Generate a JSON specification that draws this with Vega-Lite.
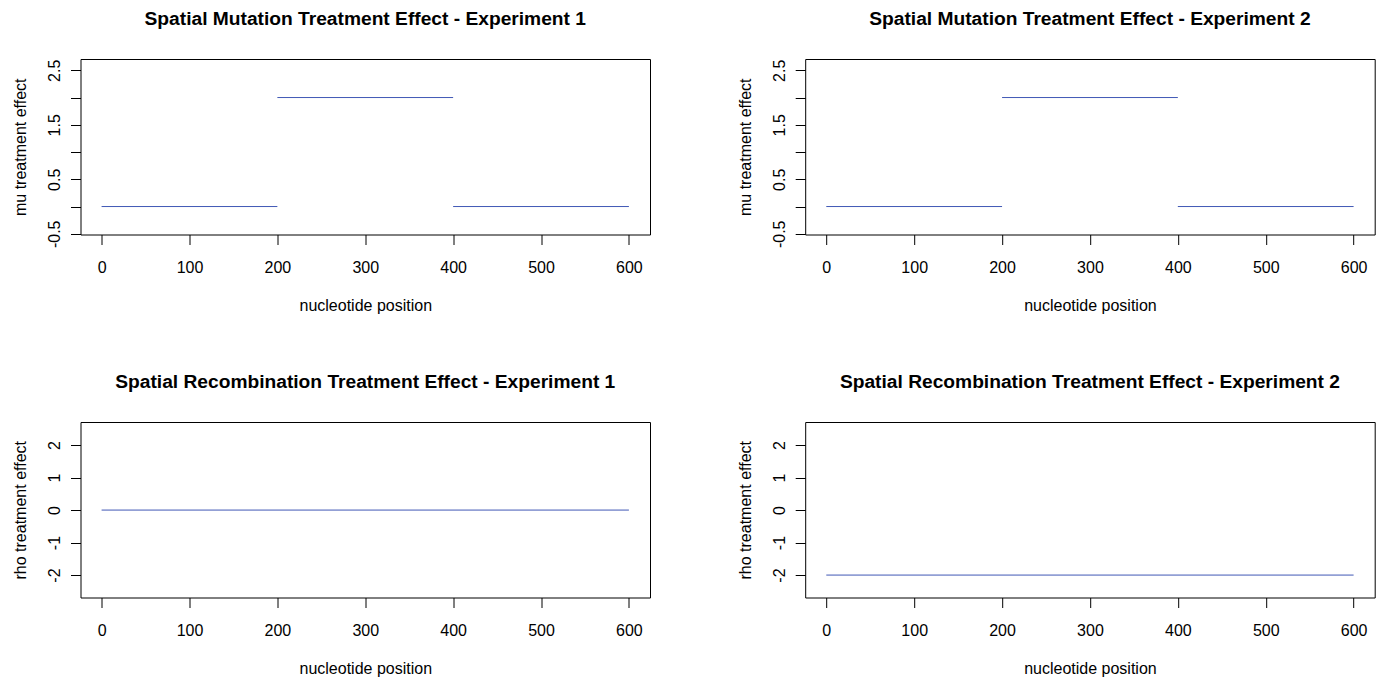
{
  "$schema": "https://vega.github.io/schema/vega-lite/v6.json",
  "background": "white",
  "padding": {"left": 11.5, "top": 9, "right": 0, "bottom": 0},
  "bounds": "flush",
  "columns": 2,
  "spacing": {"row": 187, "column": 154.7},
  "config": {
    "view": {"stroke": "#000000", "strokeWidth": 1},
    "axis": {
      "domain": false, "grid": false, "ticks": true, "tickSize": 10, "tickColor": "#000000", "tickWidth": 1,
      "labelFont": "Liberation Sans", "labelFontSize": 16, "labelColor": "#000000",
      "titleFont": "Liberation Sans", "titleFontSize": 16, "titleFontWeight": "normal", "titleColor": "#000000",
      "labelOverlap": false, "labelBound": false, "labelFlush": false
    },
    "axisX": {"labelBaseline": "alphabetic", "labelAlign": "center", "labelPadding": 27.7, "titleY": 76, "titleBaseline": "alphabetic"},
    "axisY": {"labelAngle": 270, "labelAlign": "center", "labelBaseline": "alphabetic", "labelPadding": 10.7, "titleX": -54.7, "titleBaseline": "alphabetic", "titleAngle": 270},
    "title": {"font": "Liberation Sans", "fontSize": 19.2, "fontWeight": "bold", "color": "#000000", "anchor": "middle", "frame": "group", "baseline": "alphabetic", "offset": 30.3}
  },
  "datasets": {
    "segs": [
      {"panel": "mu1", "start": 0, "end": 200, "value": 0},
      {"panel": "mu1", "start": 200, "end": 400, "value": 2},
      {"panel": "mu1", "start": 400, "end": 600, "value": 0},
      {"panel": "mu2", "start": 0, "end": 200, "value": 0},
      {"panel": "mu2", "start": 200, "end": 400, "value": 2},
      {"panel": "mu2", "start": 400, "end": 600, "value": 0},
      {"panel": "rho1", "start": 0, "end": 600, "value": 0},
      {"panel": "rho2", "start": 0, "end": 600, "value": -2}
    ]
  },
  "concat": [
    {
      "width": 569.5, "height": 175.5,
      "title": "Spatial Mutation Treatment Effect - Experiment 1",
      "data": {"name": "segs"},
      "transform": [{"filter": "datum.panel == 'mu1'"}],
      "mark": {"type": "rule", "color": "#4058B5", "strokeWidth": 1},
      "encoding": {
        "x": {"field": "start", "type": "quantitative", "title": "nucleotide position", "scale": {"domain": [-24, 624], "nice": false, "zero": false}, "axis": {"values": [0, 100, 200, 300, 400, 500, 600], "labelExpr": "datum.value + ''"}},
        "x2": {"field": "end"},
        "y": {"field": "value", "type": "quantitative", "title": "mu treatment effect", "scale": {"domain": [-0.513, 2.707], "nice": false, "zero": false}, "axis": {"values": [-0.5, 0, 0.5, 1, 1.5, 2, 2.5], "labelExpr": "datum.value % 1 == 0 ? '' : datum.value + ''"}}
      }
    },
    {
      "width": 569.5, "height": 175.5,
      "title": "Spatial Mutation Treatment Effect - Experiment 2",
      "data": {"name": "segs"},
      "transform": [{"filter": "datum.panel == 'mu2'"}],
      "mark": {"type": "rule", "color": "#4058B5", "strokeWidth": 1},
      "encoding": {
        "x": {"field": "start", "type": "quantitative", "title": "nucleotide position", "scale": {"domain": [-24, 624], "nice": false, "zero": false}, "axis": {"values": [0, 100, 200, 300, 400, 500, 600], "labelExpr": "datum.value + ''"}},
        "x2": {"field": "end"},
        "y": {"field": "value", "type": "quantitative", "title": "mu treatment effect", "scale": {"domain": [-0.513, 2.707], "nice": false, "zero": false}, "axis": {"values": [-0.5, 0, 0.5, 1, 1.5, 2, 2.5], "labelExpr": "datum.value % 1 == 0 ? '' : datum.value + ''"}}
      }
    },
    {
      "width": 569.5, "height": 175.5,
      "title": "Spatial Recombination Treatment Effect - Experiment 1",
      "data": {"name": "segs"},
      "transform": [{"filter": "datum.panel == 'rho1'"}],
      "mark": {"type": "rule", "color": "#4058B5", "strokeWidth": 1},
      "encoding": {
        "x": {"field": "start", "type": "quantitative", "title": "nucleotide position", "scale": {"domain": [-24, 624], "nice": false, "zero": false}, "axis": {"values": [0, 100, 200, 300, 400, 500, 600], "labelExpr": "datum.value + ''"}},
        "x2": {"field": "end"},
        "y": {"field": "value", "type": "quantitative", "title": "rho treatment effect", "scale": {"domain": [-2.69, 2.7095], "nice": false, "zero": false}, "axis": {"values": [-2, -1, 0, 1, 2], "labelExpr": "datum.value + ''"}}
      }
    },
    {
      "width": 569.5, "height": 175.5,
      "title": "Spatial Recombination Treatment Effect - Experiment 2",
      "data": {"name": "segs"},
      "transform": [{"filter": "datum.panel == 'rho2'"}],
      "mark": {"type": "rule", "color": "#4058B5", "strokeWidth": 1},
      "encoding": {
        "x": {"field": "start", "type": "quantitative", "title": "nucleotide position", "scale": {"domain": [-24, 624], "nice": false, "zero": false}, "axis": {"values": [0, 100, 200, 300, 400, 500, 600], "labelExpr": "datum.value + ''"}},
        "x2": {"field": "end"},
        "y": {"field": "value", "type": "quantitative", "title": "rho treatment effect", "scale": {"domain": [-2.69, 2.7095], "nice": false, "zero": false}, "axis": {"values": [-2, -1, 0, 1, 2], "labelExpr": "datum.value + ''"}}
      }
    }
  ]
}
